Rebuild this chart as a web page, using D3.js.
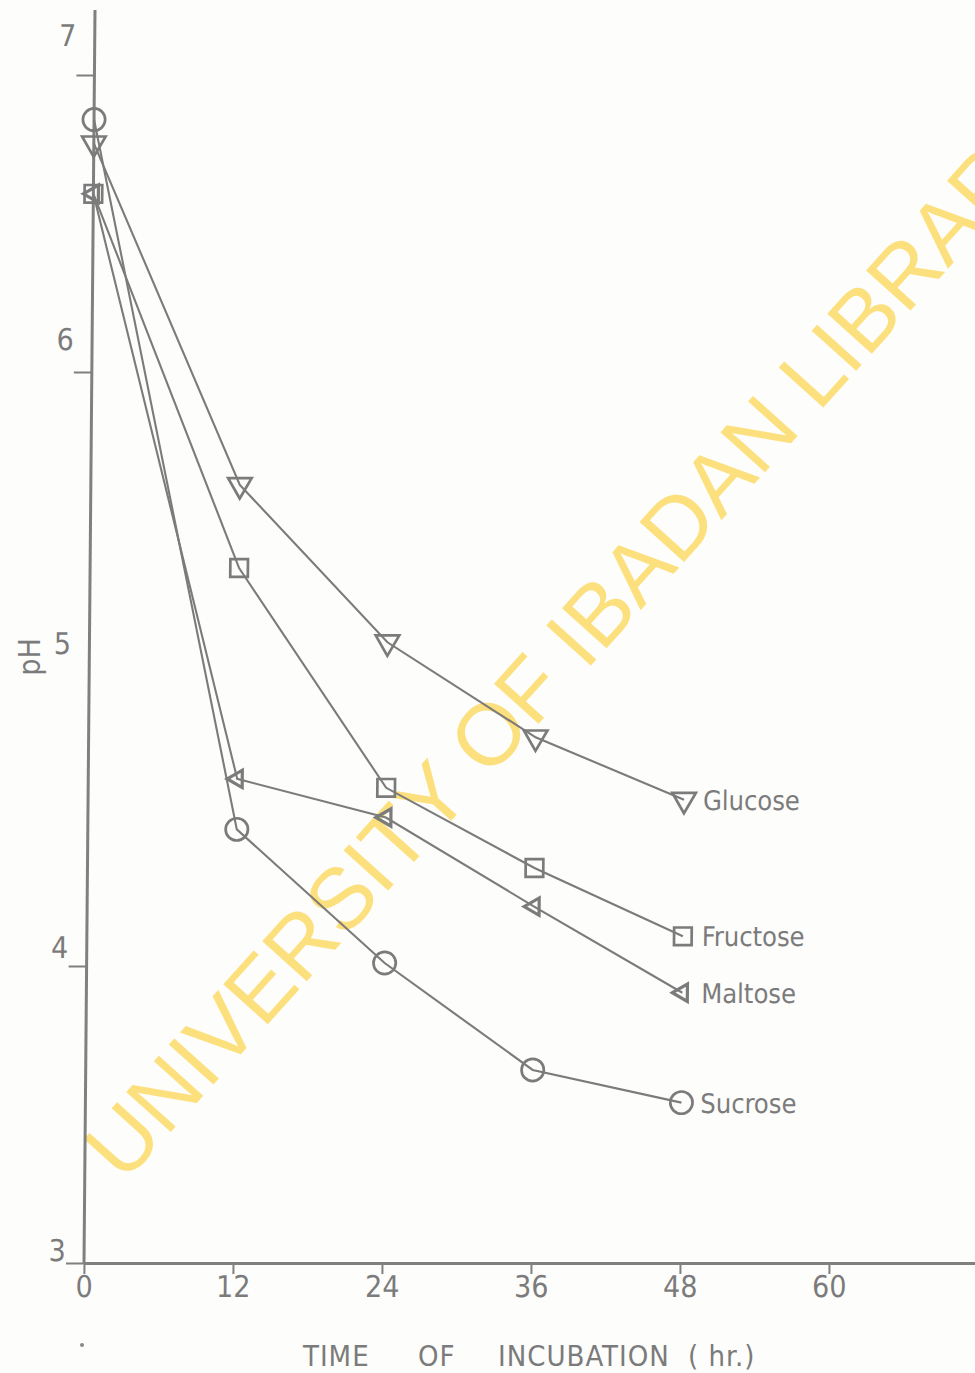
<!DOCTYPE html>
<html>
<head>
<meta charset="utf-8">
<script src="https://cdn.jsdelivr.net/npm/d3@7/dist/d3.min.js"></script>
<style>
  html, body { margin: 0; padding: 0; background: #fdfdfc; }
  svg { display: block; }
  .lbl { font-family: "DejaVu Sans", sans-serif; font-stretch: condensed; fill: #7b7b7b; }
</style>
</head>
<body>
<svg id="chart" width="975" height="1373"></svg>
<script>
// Sampling times (hours of incubation)
const hours = [0, 12, 24, 36, 48];

// pH readings for each sugar
const glucose  = [6.77, 5.62, 5.09, 4.77, 4.56];
const fructose = [6.60, 5.34, 4.60, 4.33, 4.10];
const maltose  = [6.60, 4.63, 4.50, 4.20, 3.91];
const sucrose  = [6.85, 4.46, 4.01, 3.65, 3.54];

const seriesNames = ["Glucose", "Fructose", "Maltose", "Sucrose"];

// Axis ticks and titles
const xTicks = [0, 12, 24, 36, 48, 60];
const yTicks = [3, 4, 5, 6, 7];
const xTitleWords = ["TIME", "OF", "INCUBATION", "( hr.)"];
const yTitle = "pH";
const watermarkText = "UNIVERSITY OF IBADAN LIBRARY";

const ink = "#7b7b7b";
const svg = d3.select("#chart");

const x = d3.scaleLinear().domain([0, 72]).range([84, 978]);
const y = d3.scaleLinear().domain([3, 7]).range([1263, 75]);

// Watermark stamped across the sheet
svg.append("text")
  .attr("transform", "translate(124,1184) rotate(-48)")
  .attr("font-family", "'Liberation Sans', Arial, sans-serif")
  .attr("font-size", 87)
  .attr("fill", "#fde07e")
  .text(watermarkText);

// Hand-drawn plot: the vertical axis leans slightly to the right
const plot = svg.append("g")
  .attr("transform", `translate(0,${y(3)}) skewX(-0.503) translate(0,${-y(3)})`);

// X axis
const xAxis = plot.append("g")
  .attr("transform", `translate(0,${y(3)})`)
  .call(d3.axisBottom(x).tickValues(xTicks).tickSize(11).tickSizeOuter(0).tickPadding(2));
xAxis.select(".domain").attr("stroke", "#808080").attr("stroke-width", 3);
xAxis.selectAll(".tick line").attr("stroke", "#808080").attr("stroke-width", 2);
xAxis.selectAll(".tick text")
  .attr("class", "lbl")
  .attr("font-size", 30)
  .attr("fill", ink);

// Y axis (numbers are lettered above their tick marks, drifting higher up the scale)
const yAxis = plot.append("g")
  .attr("transform", `translate(${x(0)},0)`)
  .call(d3.axisLeft(y).tickValues(yTicks).tickSize(18).tickSizeOuter(0).tickFormat(d3.format("d")));
yAxis.select(".domain").remove();
yAxis.append("line")
  .attr("x1", 0).attr("x2", 0)
  .attr("y1", y(3)).attr("y2", 10)
  .attr("stroke", "#808080").attr("stroke-width", 3);
yAxis.selectAll(".tick line")
  .attr("stroke", "#808080").attr("stroke-width", 2)
  .attr("opacity", d => d === 5 ? 0 : 1);
yAxis.selectAll(".tick text")
  .attr("class", "lbl")
  .attr("font-size", 30)
  .attr("fill", ink)
  .attr("text-anchor", "middle")
  .attr("x", -27)
  .attr("y", d => -13 - 6.8 * (d - 3))
  .attr("dy", "0.36em");

// Series
const series = [
  { name: seriesNames[0], values: glucose,  symbol: d3.symbolTriangle, size: 240, rot: 180 },
  { name: seriesNames[1], values: fructose, symbol: d3.symbolSquare,   size: 310, rot: 0 },
  { name: seriesNames[2], values: maltose,  symbol: d3.symbolTriangle, size: 130, rot: -90 },
  { name: seriesNames[3], values: sucrose,  symbol: d3.symbolCircle,   size: 390, rot: 0 }
];

const line = d3.line().x((d, i) => x(hours[i])).y(d => y(d));

const sg = plot.selectAll(".series").data(series).join("g").attr("class", "series");

sg.append("path")
  .attr("d", s => line(s.values))
  .attr("fill", "none")
  .attr("stroke", ink)
  .attr("stroke-width", 2.1);

sg.each(function (s) {
  d3.select(this).selectAll(".mk")
    .data(s.values)
    .join("path")
    .attr("class", "mk")
    .attr("transform", (d, i) => `translate(${x(hours[i])},${y(d)}) rotate(${s.rot})`)
    .attr("d", d3.symbol().type(s.symbol).size(s.size))
    .attr("fill", "none")
    .attr("stroke", ink)
    .attr("stroke-width", s.symbol === d3.symbolTriangle && s.rot === -90 ? 3.2 : 2.7);
});

// End-of-line labels
sg.append("text")
  .attr("class", "lbl")
  .attr("font-size", 27)
  .attr("x", s => x(hours[hours.length - 1]) + 19)
  .attr("y", s => y(s.values[s.values.length - 1]) + 10)
  .text(s => s.name);

// Axis titles
const xt = svg.append("text")
  .attr("class", "lbl")
  .attr("font-size", 29)
  .attr("y", 1366);
const xTitlePos = [303, 418, 498, 688];
xt.selectAll("tspan").data(xTitleWords).join("tspan")
  .attr("x", (d, i) => xTitlePos[i])
  .attr("letter-spacing", 1)
  .text(d => d);

svg.append("text")
  .attr("class", "lbl")
  .attr("font-size", 30)
  .attr("text-anchor", "middle")
  .attr("transform", "translate(40,657) rotate(-90)")
  .text(yTitle);

// Small stray speck on the sheet below the axis
svg.append("circle").attr("cx", 82).attr("cy", 1345).attr("r", 2).attr("fill", "#888");
</script>
</body>
</html>
